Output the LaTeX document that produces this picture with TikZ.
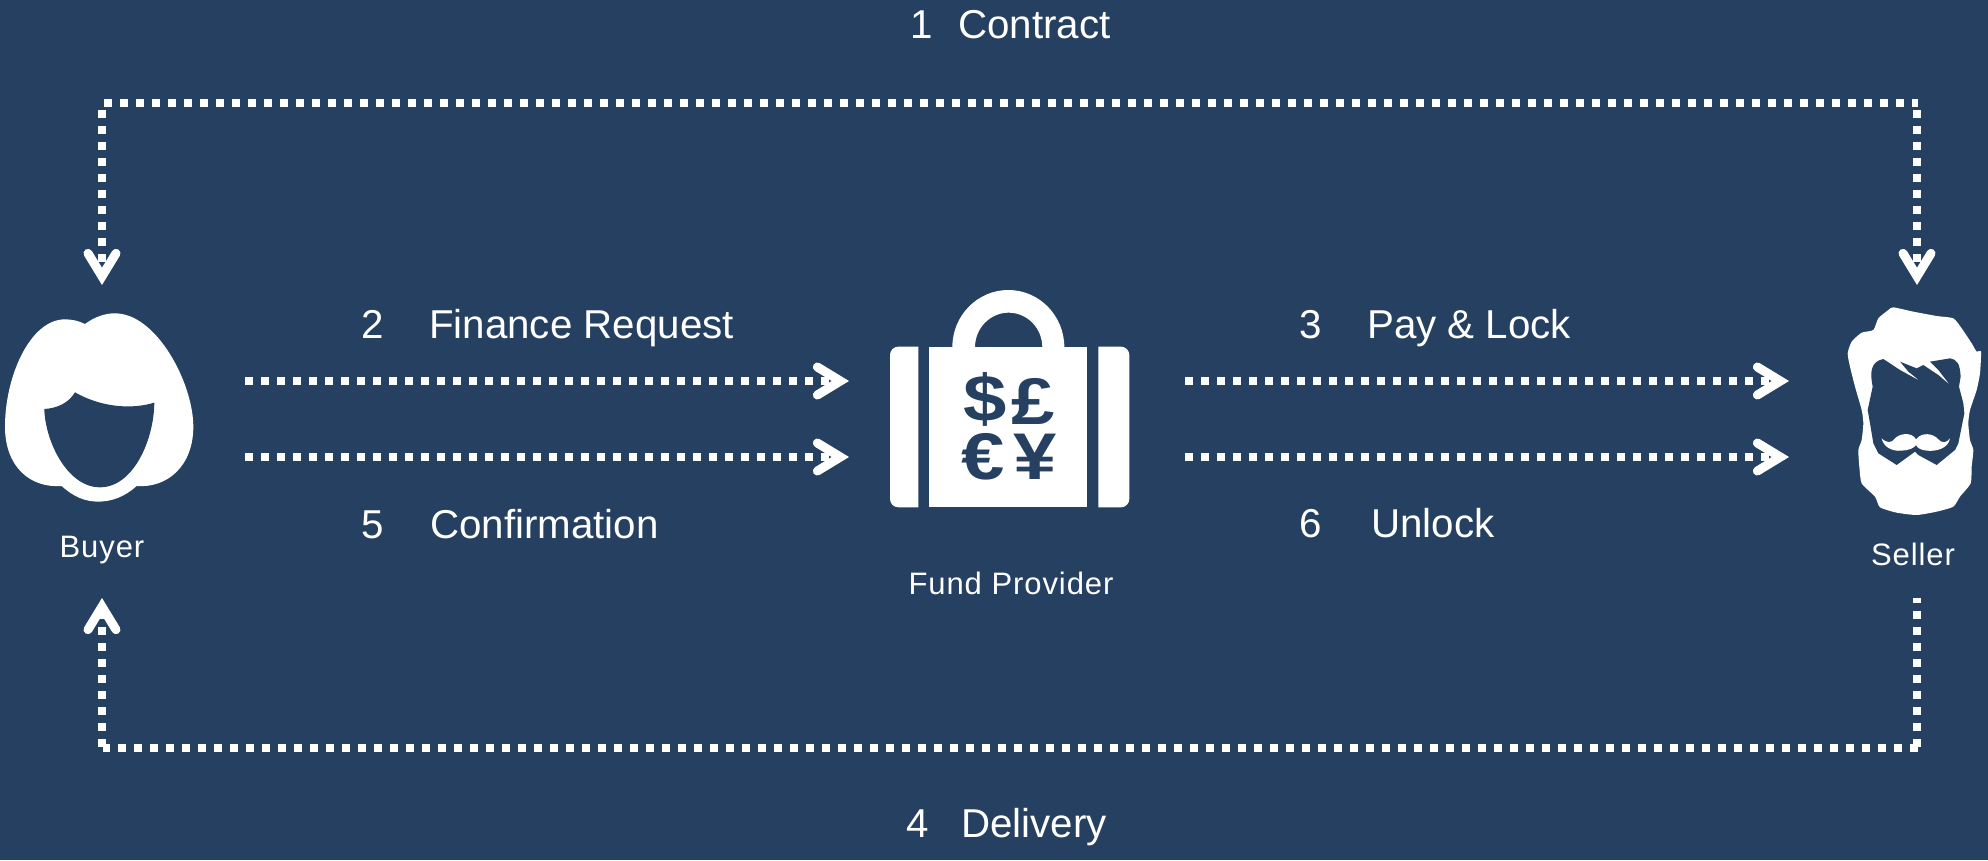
\documentclass[tikz,border=0pt]{standalone}
\usepackage{fontspec}
\setmainfont{Liberation Sans}
\usetikzlibrary{arrows.meta}
\definecolor{bg}{HTML}{264061}
\tikzset{
  dots/.style={draw=white,line width=8pt,dash pattern=on 8pt off 8pt},
  conn/.style={dots,
    -{Straight Barb[length=23pt,width=28pt,line width=9pt,line cap=round,line join=miter]}},
  lab/.style={text=white,font=\fontsize{40.3}{40}\selectfont,anchor=base west,inner sep=0pt},
  capt/.style={text=white,font=\fontsize{31}{31}\selectfont\addfontfeature{LetterSpace=3},anchor=base,inner sep=0pt},
  cur/.style={text=bg,font=\bfseries\fontsize{66}{66}\selectfont,anchor=center,inner sep=0pt,xscale=1.18},
  icon/.style={fill=white,draw=none},
  hole/.style={fill=bg,draw=none}
}
\begin{document}
\begin{tikzpicture}[x=1pt,y=-1pt]
\useasboundingbox[fill=bg] (0,0) rectangle (1988,860);
% end points
\coordinate (tlv) at (102,110);
\coordinate (tlh) at (104,103);
\coordinate (tr) at (1918,103);
\coordinate (trv) at (1917,110);
\coordinate (buyerIn) at (102,285);
\coordinate (sellerIn) at (1917,285);
\coordinate (sellerOut) at (1917,598);
\coordinate (br) at (1917,748);
\coordinate (brh) at (1918,748);
\coordinate (blh) at (103,748);
\coordinate (blv) at (102,747);
\coordinate (buyerIn2) at (102,598);
\coordinate (a1) at (245,381);\coordinate (a2) at (849,381);
\coordinate (b1) at (245,457);\coordinate (b2) at (849,457);
\coordinate (c1) at (1185,381);\coordinate (c2) at (1789,381);
\coordinate (d1) at (1185,457);\coordinate (d2) at (1789,457);
% connectors
\draw[conn] (tlv) -- (buyerIn);
\draw[dots] (tlh) -- (tr);
\draw[conn] (trv) -- (sellerIn);
\draw[dots,dash phase=3pt] (sellerOut) -- (br);
\draw[dots] (brh) -- (blh);
\draw[conn] (blv) -- (buyerIn2);
\draw[conn] (a1) -- (a2);
\draw[conn] (b1) -- (b2);
\draw[conn] (c1) -- (c2);
\draw[conn] (d1) -- (d2);
% buyer icon
\begin{scope}[x=0.3333pt,y=-0.3333pt,shift={(0pt,-280pt)}]
\fill[icon] (255,132) .. controls (285,110) and (315,100) .. (345,100)
 .. controls (470,100) and (580,310) .. (580,440)
 .. controls (580,560) and (500,625) .. (410,618)
 .. controls (375,650) and (335,665) .. (295,665)
 .. controls (255,665) and (220,650) .. (185,618)
 .. controls (90,625) and (15,560) .. (15,440)
 .. controls (15,290) and (90,118) .. (195,118)
 .. controls (215,118) and (235,122) .. (255,132) -- cycle;
\fill[hole] (133,387) .. controls (170,385) and (205,370) .. (225,337)
 .. controls (300,380) and (390,390) .. (463,368)
 .. controls (462,480) and (400,622) .. (300,622)
 .. controls (200,622) and (135,480) .. (133,387) -- cycle;
\end{scope}
% bag icon
\begin{scope}[x=0.3333pt,y=-0.3333pt,shift={(860pt,-270pt)}]
\fill[icon] (175,230) -- (115,230) arc[start angle=270,end angle=180,radius=25]
  -- (90,687) arc[start angle=180,end angle=90,radius=25] -- (175,712) -- cycle;
\fill[icon] (715,230) -- (783,230) arc[start angle=270,end angle=360,radius=25]
  -- (808,687) arc[start angle=0,end angle=90,radius=25] -- (715,712) -- cycle;
\fill[icon] (208,230) rectangle (682,712);
\fill[icon] (277,232) arc[start angle=180,end angle=360,x radius=168,y radius=172] -- (547,232)
  arc[start angle=360,end angle=180,x radius=101,y radius=104] -- cycle;
\end{scope}
\node[cur] (usd) at (985,399) {\$};
\node[cur] (gbp) at (1033,401) {£};
\node[cur] (eur) at (983,457) {€};
\node[cur] (jpy) at (1035,457) {¥};
% seller icon
\begin{scope}[x=0.3333pt,y=-0.3333pt,shift={(1780pt,-280pt)}]
\fill[icon] plot[smooth cycle,tension=0.35] coordinates {
 (340,82) (400,95) (470,108) (520,115) (545,145) (575,190) (590,215) (603,215) (600,280) (590,330)
 (570,390) (565,430) (570,480) (580,510) (575,560) (572,610) (540,650) (520,680) (470,695) (410,705)
 (350,698) (300,682) (285,650) (245,610) (238,560) (235,510) (245,480) (250,430) (245,390) (225,320)
 (210,260) (203,220) (215,185) (245,158) (280,150) (295,115) (325,90)};
\fill[hole] (310,237) -- (360,270) -- (420,303) -- (385,275) -- (360,245) -- (410,265) -- (430,255)
 -- (475,285) -- (510,315) -- (475,270) -- (450,245) -- (510,235)
 .. controls (530,238) and (540,250) .. (542,290) -- (537,320) -- (550,370) -- (553,400) -- (545,440)
 -- (535,490) -- (525,510) -- (470,555) -- (415,525) -- (405,515) -- (350,555) -- (295,520) -- (280,490)
 -- (270,430) -- (263,390) -- (278,320) .. controls (270,280) and (270,245) .. (310,237) -- cycle;
\fill[icon] (305,475) .. controls (320,490) and (335,490) .. (345,475)
 .. controls (360,460) and (395,455) .. (408,478)
 .. controls (425,455) and (460,460) .. (475,478)
 .. controls (485,490) and (500,490) .. (510,475)
 .. controls (505,505) and (470,515) .. (440,512)
 .. controls (420,510) and (412,503) .. (408,495)
 .. controls (400,505) and (390,510) .. (365,512)
 .. controls (335,515) and (310,500) .. (305,475) -- cycle;
\end{scope}
% labels
\node[lab] (n1) at (910,38) {1};
\node[lab] (t1) at (958,38) {Contract};
\node[lab] (n2) at (361,338) {2};
\node[lab] (t2) at (429,338) {Finance Request};
\node[lab] (n5) at (361,538) {5};
\node[lab] (t5) at (430,538) {Confirmation};
\node[lab] (n3) at (1299,338) {3};
\node[lab] (t3) at (1367,338) {Pay \& Lock};
\node[lab] (n6) at (1299,537) {6};
\node[lab] (t6) at (1371,537) {Unlock};
\node[lab] (n4) at (906,837) {4};
\node[lab] (t4) at (961,837) {Delivery};
\node[capt] (buyer) at (102,557) {Buyer};
\node[capt] (fund) at (1011,594) {Fund Provider};
\node[capt] (seller) at (1913,565) {Seller};
\end{tikzpicture}
\end{document}
